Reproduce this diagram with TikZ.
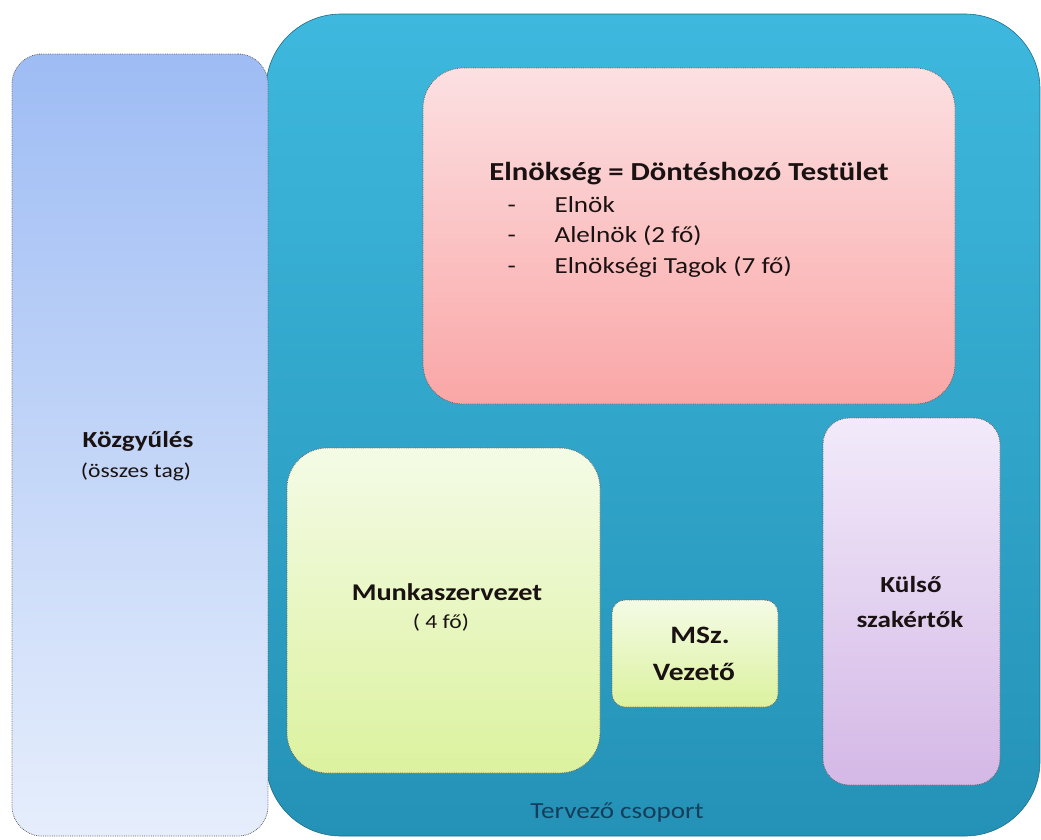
\documentclass[tikz,border=0pt]{standalone}
\usepackage{fontspec}
\setmainfont[FakeStretch=1.18]{Carlito}
\definecolor{tealtop}{RGB}{62,184,222}
\definecolor{tealbot}{RGB}{36,146,182}
\definecolor{bluetop}{RGB}{158,188,244}
\definecolor{bluebot}{RGB}{230,238,252}
\definecolor{pinktop}{RGB}{252,224,226}
\definecolor{pinkbot}{RGB}{250,166,166}
\definecolor{greentop}{RGB}{244,251,230}
\definecolor{greenbot}{RGB}{220,242,158}
\definecolor{purptop}{RGB}{242,234,250}
\definecolor{purpbot}{RGB}{212,184,230}
\definecolor{txt}{RGB}{26,18,18}
\definecolor{tervtxt}{RGB}{20,62,92}
\begin{document}
\begin{tikzpicture}[x=1pt,y=-1pt,
  box/.style={rectangle, inner sep=0pt, outer sep=0pt, draw=black!60, densely dotted, line width=0.8pt},
  bold/.style={anchor=base, text=txt, font=\fontsize{#1}{#1}\selectfont\bfseries},
  plain/.style={anchor=base, text=txt, font=\fontsize{#1}{#1}\selectfont},
  item/.style={anchor=base west, text=txt, font=\fontsize{23}{23}\selectfont}]
\useasboundingbox (0,0) rectangle (1041,839);
\fill[white] (0,0) rectangle (1041,839);
% Tervezo csoport
\node[rectangle, inner sep=0pt, rounded corners=75pt, minimum width=774pt, minimum height=822pt,
  top color=tealtop, bottom color=tealbot, draw=tealbot!75!black, line width=0.6pt] (terv) at (653,425) {};
% Kozgyules
\node[box, rounded corners=30pt, minimum width=256pt, minimum height=782pt,
  top color=bluetop, bottom color=bluebot] (kozgy) at (140,445) {};
% Elnokseg
\node[box, rounded corners=40pt, minimum width=532pt, minimum height=336pt,
  top color=pinktop, bottom color=pinkbot] (elnok) at (689,236) {};
% Munkaszervezet
\node[box, rounded corners=40pt, minimum width=313pt, minimum height=325pt,
  top color=greentop, bottom color=greenbot] (munka) at (443.5,610.5) {};
% MSz. Vezeto
\node[box, rounded corners=13pt, minimum width=166pt, minimum height=107pt,
  top color=greentop, bottom color=greenbot] (msz) at (695,653.5) {};
% Kulso szakertok
\node[box, rounded corners=26pt, minimum width=177pt, minimum height=367pt,
  top color=purptop, bottom color=purpbot] (kulso) at (911.5,601.5) {};
% Texts
\node[bold=26] (t1) at (689,180) {Elnökség = Döntéshozó Testület};
\node[item] (d1) at (504,212) {-};
\node[item] (d2) at (504,242.5) {-};
\node[item] (d3) at (504,273) {-};
\node[item] (i1) at (551,212) {Elnök};
\node[item] (i2) at (551,242.5) {Alelnök (2 fő)};
\node[item] (i3) at (551,273) {Elnökségi Tagok (7 fő)};
\node[bold=23] (k1) at (138,447) {Közgyűlés};
\node[plain=20] (k2) at (136,477) {(összes tag)};
\node[bold=24] (m1) at (447,600) {Munkaszervezet};
\node[plain=20] (m2) at (441,628) {( 4 fő)};
\node[bold=25] (s1) at (700,643) {MSz.};
\node[bold=25] (s2) at (694,680) {Vezető};
\node[bold=23] (e1) at (911,592) {Külső};
\node[bold=23] (e2) at (910,627) {szakértők};
\node[anchor=base, text=tervtxt, font=\fontsize{23}{23}\selectfont] (tc) at (617,818) {Tervező csoport};
\end{tikzpicture}
\end{document}
